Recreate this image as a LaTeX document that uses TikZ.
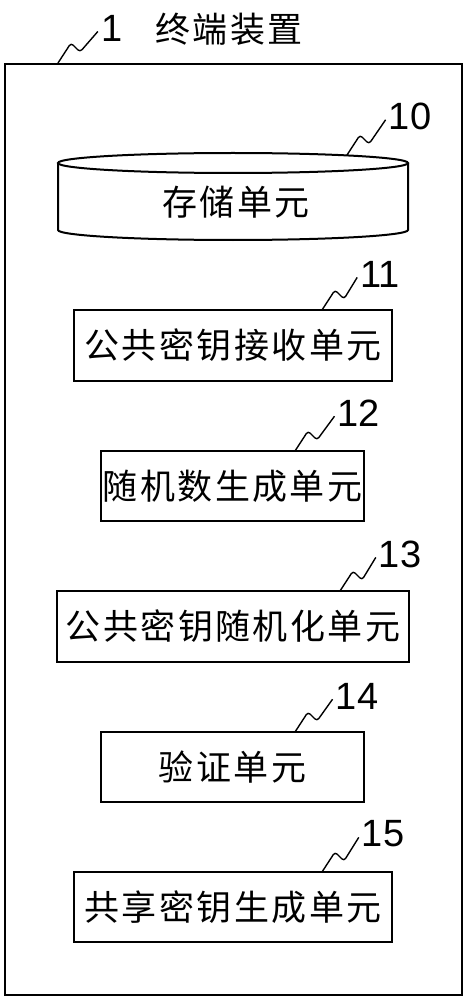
\documentclass[tikz,border=0pt]{standalone}
\usepackage{fontspec}
\setmainfont{Liberation Sans}
\newfontfamily\cjk[LetterSpace=7]{Noto Sans CJK SC}
\begin{document}
\begin{tikzpicture}[x=1pt, y=-1pt, line width=2pt,
  unit/.style={draw, inner sep=0pt, font=\cjk\fontsize{35}{40}\selectfont},
  num/.style={inner sep=0pt, font=\fontsize{38}{40}\selectfont},
  ref/.style={line width=1.4pt, rounded corners=3pt, shorten >=4pt}]
  \useasboundingbox (0,0) rectangle (466,1000);
  % terminal frame and title
  \node[draw, minimum width=457pt, minimum height=931pt] (dev) at (233.5,529.5) {};
  \node[num] (lbl1) at (112,28.5) {1};
  \node[inner sep=0pt, font=\cjk\fontsize{35}{40}\selectfont] (title) at (229,29) {终端装置};
  % storage unit
  \draw (58,163) -- (58,230) arc[start angle=180, end angle=360, x radius=175pt, y radius=10pt] -- (408,163);
  \draw (233,163) ellipse [x radius=175pt, y radius=10pt];
  \node[unit, draw=none] (u10) at (236,202) {存储单元};
  % units
  \node[unit, minimum width=318pt, minimum height=71pt] (u11) at (233,345.5) {公共密钥接收单元};
  \node[unit, minimum width=263pt, minimum height=70pt] (u12) at (232.5,486) {随机数生成单元};
  \node[unit, minimum width=352pt, minimum height=71pt] (u13) at (233,626.5) {公共密钥随机化单元};
  \node[unit, minimum width=263pt, minimum height=70pt] (u14) at (232.5,767) {验证单元};
  \node[unit, minimum width=318pt, minimum height=70pt] (u15) at (233,907) {共享密钥生成单元};
  % reference numbers
  \foreach \n/\x/\y in {10/410/116.5, 11/380/274, 12/359/413, 13/400/554, 14/357/696, 15/383/834}
    \node[num] (lbl\n) at (\x,\y) {\n};
  \foreach \n/\sx/\sy in {1/58/63, 10/347/155, 11/322/310, 12/295/451, 13/340/591, 14/295/732, 15/322/872} {
    \coordinate (t\n) at (\sx,\sy);
    \draw[ref] (t\n) -- ++(13,-20) -- ++(9,9) -- (lbl\n.west);
  }
\end{tikzpicture}
\end{document}
